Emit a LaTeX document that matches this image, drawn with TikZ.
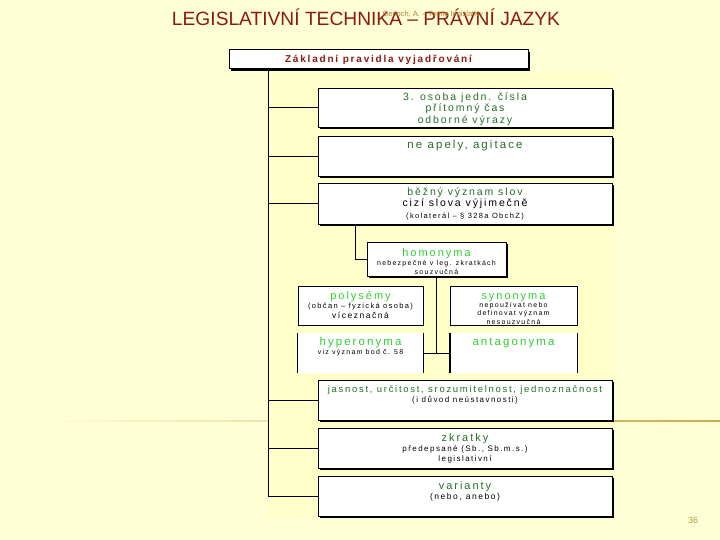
\documentclass[tikz,border=0pt]{standalone}
\usepackage{fontspec}
\setmainfont{Liberation Sans}
\newfontfamily\boxfont{Liberation Sans}[LetterSpace=18]
\usetikzlibrary{shadows}
\definecolor{slidebg}{RGB}{255,255,214}
\definecolor{picbg}{RGB}{255,255,202}
\definecolor{titlered}{RGB}{139,26,16}
\definecolor{darkgrn}{RGB}{40,110,40}
\definecolor{lightgrn}{RGB}{50,205,50}
\definecolor{goldline}{RGB}{200,170,80}
\definecolor{pagenum}{RGB}{180,150,70}
\newcommand{\tallstrut}{\vphantom{Íl}}
\begin{document}
\begin{tikzpicture}[x=1pt,y=-1pt,
  rulebox/.style={draw=black, fill=white, line width=0.6pt, minimum width=294pt, minimum height=39pt, inner sep=0pt,
    drop shadow={shadow xshift=2pt, shadow yshift=-2pt, fill=black, opacity=1}},
  smallbox/.style={draw=black, fill=white, line width=0.5pt, minimum width=125pt, minimum height=39pt, inner sep=0pt},
  boxtext/.style={anchor=north, align=center, font=\boxfont\fontsize{9}{11}\selectfont, inner sep=0pt},
  headword/.style={text=lightgrn, font=\boxfont\fontsize{11}{12}\selectfont},
  tie/.style={line width=0.8pt}]
\fill[slidebg] (0,0) rectangle (720,540);
\useasboundingbox (0,0) rectangle (720,540);
\shade[left color=slidebg, right color=goldline] (40,420.3) rectangle (720,421.8);
\fill[picbg] (268,72) rectangle (613,518);

% title
\node[font=\fontsize{19.2}{21}\selectfont, text=titlered] (title) at (366,17) {LEGISLATIVNÍ TECHNIKA – PRÁVNÍ JAZYK};
\node[font=\fontsize{7.5}{8}\selectfont, text=pagenum!80!titlered] (src) at (433,15) {Gerloch, A. – Teorie legislativy};
\node[font=\fontsize{9}{10}\selectfont, text=pagenum] (page) at (693,520) {36};

% boxes
\node[rulebox, minimum width=299pt, minimum height=19pt, line width=1pt] (header) at (378.5,59.5)
  {\boxfont\bfseries\fontsize{10}{11}\selectfont\color{titlered}Základní pravidla vyjadřování};
\node[rulebox] (osoba) at (465,107.5) {};
\node[rulebox, minimum height=40pt] (apely) at (465,156) {};
\node[rulebox, minimum height=41pt] (vyznam) at (465,203.5) {};
\node[rulebox, minimum width=139pt, minimum height=34pt, drop shadow={opacity=0}] (homonyma) at (436.5,259) {};
\node[smallbox] (polysemy) at (360.5,305.5) {};
\node[smallbox, minimum width=127pt] (synonyma) at (513.5,305.5) {};
\node[smallbox, draw=none, minimum height=40pt] (hyper) at (360.5,353) {};
\node[smallbox, draw=none, minimum width=127pt, minimum height=40pt] (antag) at (513.5,353) {};
\node[rulebox, minimum height=40pt] (jasnost) at (465,400) {};
\node[rulebox, minimum height=40pt] (zkratky) at (465,448) {};
\node[rulebox, minimum height=40pt] (varianty) at (465,496) {};

% texts
\node[boxtext, text=darkgrn, font=\boxfont\fontsize{10.5}{11.5}\selectfont] (osoba-t) at ([yshift=-3pt]osoba.north)
  {\tallstrut 3. osoba jedn. čísla\\přítomný čas\\odborné výrazy};
\node[boxtext, text=darkgrn, font=\boxfont\fontsize{11.5}{12}\selectfont] (apely-t) at ([yshift=-3pt]apely.north) {\tallstrut ne apely, agitace};
\node[boxtext, font=\boxfont\fontsize{10.5}{11.5}\selectfont] (vyznam-t) at ([yshift=-3pt]vyznam.north)
  {\tallstrut\textcolor{darkgrn}{běžný význam slov}\\cizí slova výjimečně\\{\fontsize{7.5}{9}\selectfont(kolaterál – § 328a ObchZ)}};
\node[boxtext, font=\boxfont\fontsize{7}{9}\selectfont] (homonyma-t) at ([yshift=-5pt]homonyma.north)
  {\textcolor{lightgrn}{\fontsize{11}{11}\selectfont\tallstrut homonyma}\\nebezpečné v leg. zkratkách\\souzvučná};
\node[boxtext, font=\boxfont\fontsize{7.5}{9.5}\selectfont] (polysemy-t) at ([yshift=-4pt]polysemy.north)
  {\textcolor{lightgrn}{\fontsize{11}{11}\selectfont\tallstrut polysémy}\\(občan – fyzická osoba)\\{\fontsize{8.5}{10}\selectfont víceznačná}};
\node[boxtext, font=\boxfont\fontsize{7}{8.2}\selectfont] (synonyma-t) at ([yshift=-4pt]synonyma.north)
  {\textcolor{lightgrn}{\fontsize{11}{10}\selectfont\tallstrut synonyma}\\nepoužívat nebo\\definovat význam\\nesouzvučná};
\node[boxtext, font=\boxfont\fontsize{7}{9}\selectfont] (hyper-t) at ([yshift=-3pt]hyper.north)
  {\textcolor{lightgrn}{\fontsize{11.5}{11.5}\selectfont\tallstrut hyperonyma}\\viz význam bod č. 58};
\node[boxtext, headword, font=\boxfont\fontsize{11.5}{12}\selectfont] (antag-t) at ([yshift=-3pt]antag.north) {\tallstrut antagonyma};
\node[boxtext, font=\boxfont\fontsize{8}{10}\selectfont] (jasnost-t) at ([yshift=-4pt]jasnost.north)
  {\textcolor{darkgrn}{\fontsize{9.5}{10.5}\selectfont\tallstrut jasnost, určitost, srozumitelnost, jednoznačnost}\\(i důvod neústavnosti)};
\node[boxtext, font=\boxfont\fontsize{8}{10}\selectfont] (zkratky-t) at ([yshift=-4pt]zkratky.north)
  {\textcolor{darkgrn}{\fontsize{11}{11}\selectfont\tallstrut zkratky}\\předepsané (Sb., Sb.m.s.)\\legislativní};
\node[boxtext, font=\boxfont\fontsize{8.5}{10}\selectfont] (varianty-t) at ([yshift=-4pt]varianty.north)
  {\textcolor{darkgrn}{\fontsize{11}{11}\selectfont\tallstrut varianty}\\(nebo, anebo)};

% sides of the open boxes
\draw[line width=0.6pt] (hyper.north west) -- (hyper.south west);
\draw[line width=0.6pt] (hyper.north east) -- (hyper.south east);
\draw[line width=1.5pt] (antag.north west) -- (antag.south west);
\draw[line width=0.6pt] (antag.north east) -- (antag.south east);

% connectors
\coordinate (trunk) at (268,69);
\draw[tie] (trunk) |- (varianty.west);
\draw[tie] (trunk |- osoba.west) -- (osoba.west);
\draw[tie] (trunk |- apely.west) -- (apely.west);
\draw[tie] (trunk |- vyznam.west) -- (vyznam.west);
\draw[tie] (trunk |- jasnost.west) -- (jasnost.west);
\draw[tie] (trunk |- zkratky.west) -- (zkratky.west);
\draw[tie] ([xshift=-110pt]vyznam.south) |- (homonyma.west);
\draw[tie] (homonyma.south) -- (homonyma.south |- hyper.east);
\draw[tie] (hyper.east) -- (antag.west);
\end{tikzpicture}
\end{document}
